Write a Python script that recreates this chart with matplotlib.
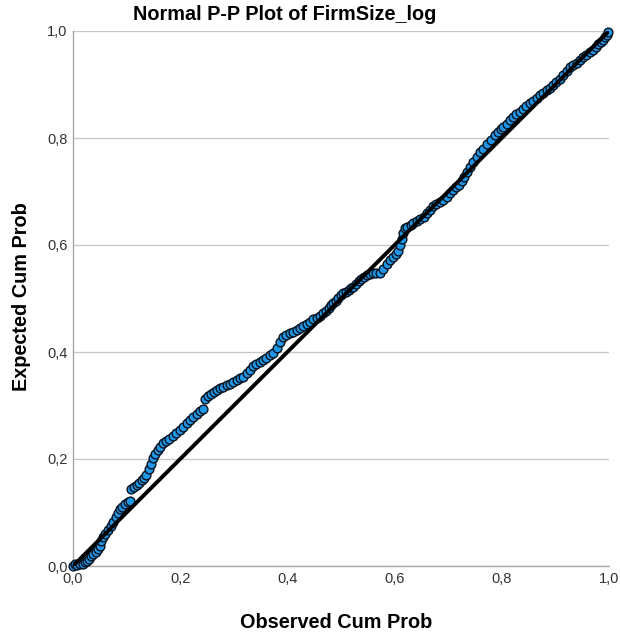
import matplotlib
matplotlib.use('Agg')
import matplotlib.pyplot as plt
from matplotlib.ticker import FuncFormatter

plt.rcParams['font.family'] = ['Liberation Sans', 'DejaVu Sans']

# observed cumulative probability
observed_prob = [
    0.000, 0.004, 0.008, 0.013, 0.018, 0.022, 0.026, 0.030, 0.034, 0.038,
    0.042, 0.046, 0.050, 0.053, 0.056, 0.060, 0.065, 0.070, 0.075, 0.080,
    0.084, 0.088, 0.092, 0.097, 0.103, 0.106, 0.109, 0.114, 0.119, 0.124,
    0.128, 0.133, 0.137, 0.141, 0.145, 0.149, 0.153, 0.158, 0.163, 0.168,
    0.174, 0.180, 0.186, 0.193, 0.199, 0.205, 0.212, 0.218, 0.224, 0.231,
    0.237, 0.243, 0.246, 0.251, 0.257, 0.263, 0.268, 0.274, 0.280, 0.287,
    0.293, 0.299, 0.306, 0.312, 0.318, 0.324, 0.330, 0.336, 0.342, 0.349,
    0.355, 0.361, 0.368, 0.374, 0.380, 0.386, 0.392, 0.398, 0.405, 0.411,
    0.417, 0.423, 0.430, 0.436, 0.442, 0.448, 0.455, 0.461, 0.467, 0.472,
    0.477, 0.482, 0.486, 0.491, 0.495, 0.500, 0.504, 0.509, 0.514, 0.518,
    0.523, 0.528, 0.533, 0.537, 0.542, 0.548, 0.554, 0.560, 0.566, 0.573,
    0.579, 0.585, 0.591, 0.597, 0.603, 0.607, 0.610, 0.613, 0.616, 0.619,
    0.624, 0.630, 0.635, 0.641, 0.648, 0.654, 0.660, 0.666, 0.672, 0.678,
    0.685, 0.691, 0.697, 0.703, 0.709, 0.714, 0.720, 0.725, 0.730, 0.735,
    0.740, 0.747, 0.753, 0.759, 0.765, 0.772, 0.780, 0.787, 0.792, 0.798,
    0.803, 0.809, 0.815, 0.821, 0.827, 0.834, 0.840, 0.846, 0.852, 0.859,
    0.865, 0.871, 0.877, 0.884, 0.890, 0.896, 0.902, 0.908, 0.915, 0.921,
    0.927, 0.933, 0.940, 0.946, 0.952, 0.958, 0.965, 0.971, 0.976, 0.980,
    0.985, 0.989, 0.993, 0.996, 0.999,
]

# expected cumulative probability
expected_prob = [
    0.000, 0.004, 0.002, 0.003, 0.003, 0.007, 0.010, 0.014, 0.018, 0.022,
    0.027, 0.031, 0.037, 0.046, 0.055, 0.060, 0.067, 0.075, 0.083, 0.091,
    0.099, 0.106, 0.111, 0.115, 0.120, 0.122, 0.144, 0.148, 0.151, 0.155,
    0.160, 0.165, 0.171, 0.181, 0.191, 0.201, 0.210, 0.217, 0.223, 0.229,
    0.234, 0.238, 0.243, 0.248, 0.254, 0.260, 0.267, 0.273, 0.279, 0.285,
    0.289, 0.293, 0.312, 0.317, 0.322, 0.326, 0.329, 0.332, 0.335, 0.338,
    0.341, 0.344, 0.347, 0.351, 0.354, 0.360, 0.367, 0.373, 0.377, 0.381,
    0.385, 0.389, 0.394, 0.399, 0.408, 0.419, 0.428, 0.432, 0.435, 0.438,
    0.441, 0.445, 0.449, 0.453, 0.457, 0.461, 0.464, 0.468, 0.472, 0.477,
    0.482, 0.487, 0.491, 0.496, 0.501, 0.506, 0.510, 0.513, 0.516, 0.519,
    0.522, 0.527, 0.532, 0.537, 0.541, 0.544, 0.546, 0.547, 0.547, 0.548,
    0.556, 0.564, 0.572, 0.578, 0.583, 0.588, 0.600, 0.612, 0.622, 0.631,
    0.634, 0.638, 0.641, 0.645, 0.649, 0.653, 0.659, 0.666, 0.672, 0.676,
    0.680, 0.684, 0.690, 0.697, 0.703, 0.708, 0.713, 0.719, 0.728, 0.737,
    0.746, 0.756, 0.765, 0.773, 0.780, 0.788, 0.797, 0.806, 0.811, 0.816,
    0.821, 0.827, 0.833, 0.839, 0.844, 0.849, 0.855, 0.860, 0.865, 0.870,
    0.875, 0.880, 0.884, 0.889, 0.894, 0.899, 0.904, 0.910, 0.918, 0.926,
    0.932, 0.937, 0.941, 0.946, 0.951, 0.955, 0.960, 0.965, 0.970, 0.975,
    0.979, 0.983, 0.988, 0.993, 0.999,
]

ticks = [0.0, 0.2, 0.4, 0.6, 0.8, 1.0]

fig = plt.figure(figsize=(6.2, 6.35), dpi=100)
ax = fig.add_axes([73 / 620, 69 / 635, 536 / 620, 535 / 635])

ax.scatter(observed_prob, expected_prob, s=40, c='#1f97e6', edgecolors='#07121f',
           linewidths=1.0, zorder=3, clip_on=False)
ax.plot([0, 1], [0, 1], color='black', linewidth=2.8, zorder=4)

ax.set_xlim(0, 1)
ax.set_ylim(0, 1)
ax.set_xticks(ticks)
ax.set_yticks(ticks)
fmt = FuncFormatter(lambda v, p: f'{v:.1f}'.replace('.', ','))
ax.xaxis.set_major_formatter(fmt)
ax.yaxis.set_major_formatter(fmt)
ax.tick_params(length=0, labelsize=10.5, colors='#333333', pad=4)
ax.grid(axis='y', color='#c8c8c8', linewidth=1)
ax.set_axisbelow(True)
for side in ['top', 'right']:
    ax.spines[side].set_visible(False)
for side in ['left', 'bottom']:
    ax.spines[side].set_color('#a8a8a8')
    ax.spines[side].set_linewidth(1)

fig.text(285 / 620, 1 - 14 / 635, 'Normal P-P Plot of FirmSize_log', ha='center',
         va='center', fontsize=14.3, fontweight='bold')
fig.text(336 / 620, 1 - 622 / 635, 'Observed Cum Prob', ha='center', va='center',
         fontsize=14.3, fontweight='bold')
fig.text(22 / 620, 1 - 297 / 635, 'Expected Cum Prob', ha='center', va='center',
         rotation=90, fontsize=14.3, fontweight='bold')

fig.savefig('out.png', dpi=100)
